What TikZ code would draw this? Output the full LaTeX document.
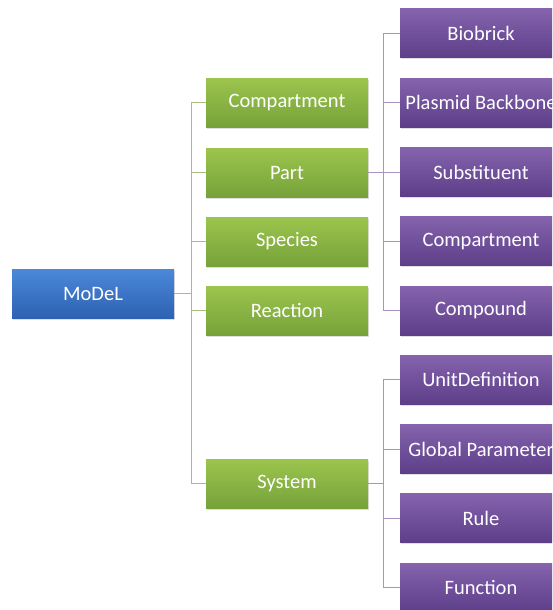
\documentclass[tikz,border=0pt]{standalone}
\usepackage{fontspec}
\setmainfont{Carlito}
\usetikzlibrary{shadows}
\definecolor{gtop}{HTML}{9CC54D}
\definecolor{gbot}{HTML}{76A23A}
\definecolor{ptop}{HTML}{8563AD}
\definecolor{pbot}{HTML}{5D3E89}
\definecolor{btop}{HTML}{4B89D8}
\definecolor{bbot}{HTML}{2E61B2}
\definecolor{gline}{HTML}{A9BD80}
\definecolor{pline}{HTML}{A696BF}
\tikzset{
  box/.style={rectangle, minimum width=162pt, minimum height=49pt, inner sep=0pt,
    text=white, font=\fontsize{20.5}{24}\selectfont,
    drop shadow={opacity=0.25, shadow xshift=1pt, shadow yshift=-1.5pt}},
  rootbox/.style={box, top color=btop, bottom color=bbot},
  greenbox/.style={box, top color=gtop, bottom color=gbot},
  purplebox/.style={box, top color=ptop, bottom color=pbot},
  glink/.style={draw=gline, line width=0.9pt},
  plink/.style={draw=pline, line width=0.9pt}
}
\begin{document}
\begin{tikzpicture}[x=1pt, y=-1pt]
  \clip (0,0) rectangle (552,610);
  \fill[white] (0,0) rectangle (552,610);

  % root
  \node[rootbox] (model) at (93,293.5) {MoDeL};

  % first level
  \node[greenbox] (gcomp)  at (287,102.5) {Compartment};
  \node[greenbox] (gpart)  at (287,172.5) {Part};
  \node[greenbox] (gspec)  at (287,241.5) {Species};
  \node[greenbox] (greac)  at (287,310.5) {Reaction};
  \node[greenbox] (gsys)   at (287,483.5) {System};

  % second level under Part
  \node[purplebox] (pbio)  at (481,33.5)  {Biobrick};
  \node[purplebox] (pplas) at (481,102.75) {Plasmid Backbone};
  \node[purplebox] (psubs) at (481,172)   {Substituent};
  \node[purplebox] (pcomp) at (481,241.25) {Compartment};
  \node[purplebox] (pcpd)  at (481,310.5) {Compound};

  % second level under System
  \node[purplebox] (punit) at (481,379.75) {UnitDefinition};
  \node[purplebox] (pglob) at (481,449)   {Global Parameter};
  \node[purplebox] (prule) at (481,518.25) {Rule};
  \node[purplebox] (pfunc) at (481,587.5) {Function};

  % trunk positions
  \coordinate (gt) at (191,0);
  \coordinate (pt) at (383,0);

  % root to first level
  \begin{scope}[on background layer/.try]
  \draw[glink] (model.east) -- (model.east -| gt);
  \draw[glink] (gcomp.west -| gt) -- (gsys.west -| gt);
  \foreach \n in {gcomp,gpart,gspec,greac,gsys}
    \draw[glink] (\n.west -| gt) -- (\n.west);

  % Part to its children
  \draw[plink] (gpart.east) -- (gpart.east -| pt);
  \draw[plink] (pbio.west -| pt) -- (pcpd.west -| pt);
  \foreach \n in {pbio,pplas,psubs,pcomp,pcpd}
    \draw[plink] (\n.west -| pt) -- (\n.west);

  % System to its children
  \draw[plink] (gsys.east) -- (gsys.east -| pt);
  \draw[plink] (punit.west -| pt) -- (pfunc.west -| pt);
  \foreach \n in {punit,pglob,prule,pfunc}
    \draw[plink] (\n.west -| pt) -- (\n.west);
  \end{scope}
\end{tikzpicture}
\end{document}
